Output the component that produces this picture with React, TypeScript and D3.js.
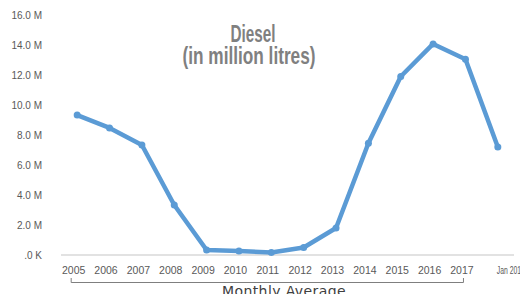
import * as d3 from 'd3'

const categories = ['2005', '2006', '2007', '2008', '2009', '2010', '2011', '2012', '2013', '2014', '2015', '2016', '2017', 'Jan 2018']
const dieselValues = [9.33, 8.47, 7.33, 3.33, 0.33, 0.27, 0.17, 0.5, 1.8, 7.45, 11.9, 14.07, 13.05, 7.2]
const yTicks = [0, 2, 4, 6, 8, 10, 12, 14, 16]
const titleLines = ['Diesel', '(in million litres)']
const groupLabel = 'Monthly Average'

const W = 520
const H = 294

export default function App() {
  const x = d3.scaleBand<string>().domain(categories).range([61, 514])
  const cx = (c: string) => (x(c) ?? 0) + x.bandwidth() / 2
  const y = d3.scaleLinear().domain([0, 16]).range([255, 15])

  const line = d3.line<number>()
    .x((_, i) => cx(categories[i]))
    .y(d => y(d))

  const fmt = (v: number) => (v === 0 ? '.0 K' : `${v.toFixed(1)} M`)

  const bx0 = cx('2005') - 6
  const bx1 = cx('2017') - 2

  return (
    <svg width={W} height={H} style={{ position: 'absolute', left: 0, top: 0, background: '#fff' }}>
      {/* y axis labels */}
      <g fontFamily="'Liberation Sans', Arial, sans-serif" fontSize={10} fill="#595959">
        {yTicks.map(t => (
          <text key={t} x={42} y={y(t)} textAnchor="end" dominantBaseline="central">{fmt(t)}</text>
        ))}
      </g>

      {/* x axis line */}
      <line x1={61} x2={514} y1={y(0)} y2={y(0)} stroke="#d9d9d9" strokeWidth={1.5} />

      {/* x labels */}
      <g fontFamily="'Liberation Sans', Arial, sans-serif" fontSize={10.5} fill="#595959">
        {categories.map((c, i) =>
          i < categories.length - 1 ? (
            <text key={c} x={cx(c) - 3.5} y={274} textAnchor="middle">{c}</text>
          ) : (
            <text key={c} x={cx(c) - 1} y={274} fontSize={11.5} textLength={28} lengthAdjust="spacingAndGlyphs">{c}</text>
          )
        )}
      </g>

      {/* group bracket */}
      <path d={`M${bx0},278 V282.5 H${bx1} V278`} fill="none" stroke="#7f7f7f" strokeWidth={1} />
      <text x={284} y={296} textAnchor="middle" fontFamily="'DejaVu Sans', sans-serif" fontSize={14} letterSpacing={0.4} fill="#404040">{groupLabel}</text>

      {/* title */}
      <g fontFamily="'Liberation Sans Narrow', 'Liberation Sans', sans-serif" fontWeight="bold" fontSize={24} fill="#808080" textAnchor="middle">
        <text x={253} y={42} textLength={45} lengthAdjust="spacingAndGlyphs">{titleLines[0]}</text>
        <text x={249} y={64} textLength={133} lengthAdjust="spacingAndGlyphs">{titleLines[1]}</text>
      </g>

      {/* series */}
      <path d={line(dieselValues) ?? ''} fill="none" stroke="#5b9bd5" strokeWidth={4.5} strokeLinejoin="round" strokeLinecap="round" />
      {dieselValues.map((v, i) => (
        <circle key={i} cx={cx(categories[i])} cy={y(v)} r={3.5} fill="#5b9bd5" />
      ))}
    </svg>
  )
}
